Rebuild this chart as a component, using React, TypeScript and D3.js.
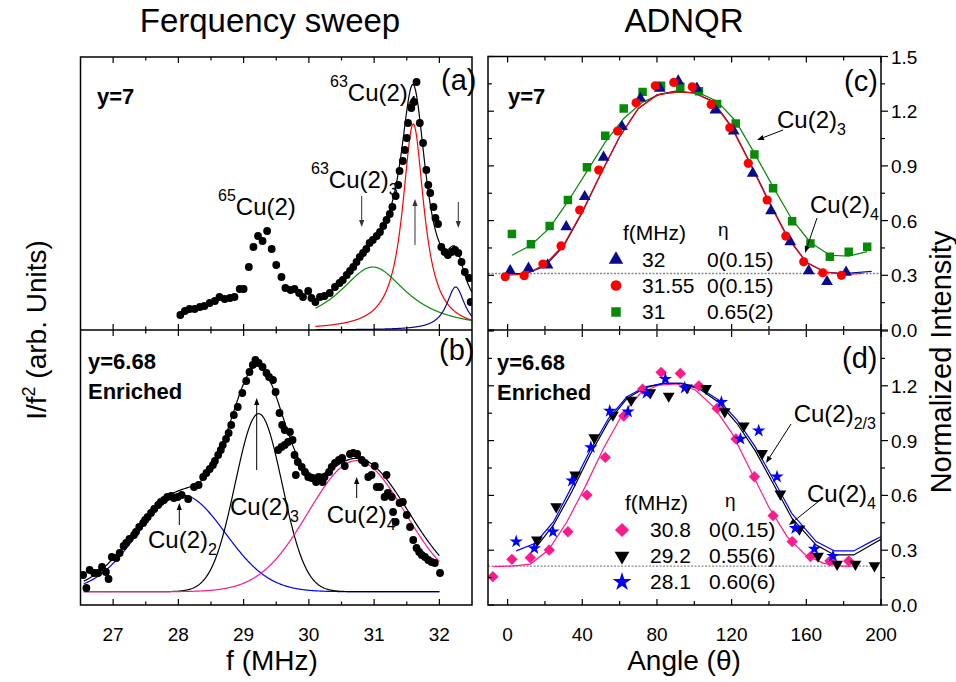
import React from "react";
import * as d3 from "d3";

// ---------- Panel (a): y=7 frequency sweep ----------
const aFreq = [28.03,28.10,28.17,28.25,28.33,28.40,28.48,28.56,28.63,28.71,28.79,28.86,28.94,29.00,29.08,29.15,29.22,29.29,29.36,29.43,29.50,29.58,29.64,29.72,29.78,29.85,29.91,29.99,30.04,30.10,30.17,30.24,30.32,30.40,30.47,30.52,30.58,30.63,30.68,30.73,30.78,30.83,30.88,30.93,30.98,31.04,31.09,31.14,31.19,31.24,31.28,31.33,31.37,31.39,31.44,31.47,31.50,31.52,31.57,31.61,31.65,31.70,31.75,31.80,31.83,31.86,31.91,31.94,31.98,32.03,32.08,32.13,32.19,32.24,32.29,32.34,32.39,32.46,32.48];
const aInt = [0.15,0.19,0.21,0.21,0.23,0.24,0.27,0.29,0.33,0.31,0.32,0.33,0.41,0.41,0.63,0.83,0.94,0.89,0.99,0.81,0.65,0.53,0.42,0.40,0.41,0.37,0.33,0.39,0.32,0.28,0.33,0.34,0.37,0.43,0.47,0.50,0.55,0.59,0.63,0.68,0.73,0.77,0.81,0.87,0.90,0.94,0.98,1.04,1.10,1.16,1.23,1.34,1.45,1.59,1.69,1.80,1.92,2.07,2.22,2.28,2.48,2.07,1.87,1.60,1.45,1.37,1.23,1.12,1.06,0.83,0.78,0.75,0.78,0.80,0.77,0.68,0.58,0.52,0.28];
// Lorentzian components: Cu(2)4 (red), Cu(2)3 (green), Cu(2)? (navy)
const aCompCenter = [31.60, 30.98, 32.25];
const aCompAmp = [2.06, 0.63, 0.43];
const aCompWidth = [0.20, 0.64, 0.17];
const aTotCenter = [31.60, 30.98, 32.25];
const aTotAmp = [2.10, 0.63, 0.45];
const aTotWidth = [0.24, 0.64, 0.17];
const aFitRange = [30.1, 32.5];

// ---------- Panel (b): y=6.68 enriched ----------
const bFreq = [26.54,26.59,26.64,26.71,26.77,26.83,26.89,26.93,26.98,27.05,27.10,27.16,27.20,27.25,27.32,27.35,27.40,27.46,27.49,27.53,27.58,27.63,27.69,27.73,27.78,27.83,27.89,27.93,27.99,28.05,28.15,28.24,28.31,28.38,28.43,28.48,28.53,28.56,28.61,28.65,28.68,28.73,28.77,28.81,28.85,28.91,28.98,29.04,29.09,29.14,29.18,29.23,29.29,29.35,29.39,29.45,29.49,29.55,29.59,29.63,29.71,29.75,29.53,29.58,29.63,29.68,29.78,29.80,29.83,29.89,29.94,29.99,30.04,30.11,30.15,30.21,30.24,30.31,30.35,30.40,30.46,30.51,30.55,30.63,30.68,30.74,30.81,30.86,30.91,30.96,31.01,31.04,31.09,31.19,31.16,31.21,31.27,31.29,31.33,31.39,31.44,31.50,31.55,31.60,31.65,31.69,31.73,31.78,31.83,31.88,31.93,32.01];
const bInt = [0.30,0.17,0.35,0.32,0.32,0.38,0.33,0.26,0.48,0.47,0.52,0.59,0.62,0.66,0.70,0.73,0.78,0.82,0.85,0.88,0.92,0.96,1.00,1.03,1.05,1.08,1.09,1.07,1.08,1.10,1.06,1.18,1.20,1.28,1.32,1.36,1.40,1.44,1.50,1.55,1.60,1.66,1.72,1.80,1.90,1.98,2.12,2.24,2.33,2.40,2.45,2.42,2.38,2.32,2.28,2.25,2.13,1.92,1.80,1.75,1.73,1.65,1.55,1.58,1.60,1.63,1.50,1.30,1.43,1.38,1.33,1.28,1.27,1.23,1.28,1.23,1.28,1.33,1.38,1.42,1.45,1.47,1.39,1.51,1.52,1.51,1.45,1.42,1.28,1.30,1.39,1.18,1.18,1.30,1.08,1.12,1.08,0.93,0.83,1.02,1.03,0.90,0.78,0.65,0.57,0.53,0.50,0.48,0.45,0.43,0.42,0.32];
const bBase = 0.133;
// Gaussian components: Cu(2)2 (blue), Cu(2)3 (black), Cu(2)4 (pink)
const bCompCenter = [28.05, 29.23, 30.73];
const bCompAmp = [0.967, 1.78, 1.31];
const bCompSigma = [0.67, 0.36, 0.74];
const bTotCenter = [28.03, 29.22, 30.74];
const bTotAmp = [0.98, 1.83, 1.33];
const bTotSigma = [0.70, 0.42, 0.78];
const bFitRange = [26.55, 32.0];

// ---------- Panel (c): ADNQR y=7 ----------
const cTriAngle = [1.4,11.2,21.4,31.4,41.3,51.4,61.3,71.1,81.5,91.4,101.4,111.3,121.1,131.3,141.1,151.4,161.3,171.1,181.3];
const cTriVal = [0.325,0.338,0.356,0.566,0.731,0.947,1.115,1.270,1.325,1.365,1.325,1.206,1.091,0.859,0.654,0.484,0.325,0.265,0.316];
const cCirAngle = [-1.3,8.9,18.9,28.6,38.6,48.8,58.9,68.8,79.1,89,98.9,109,119,128.9,139,149,158.6,168.8,178.8];
const cCirVal = [0.292,0.298,0.362,0.461,0.658,0.877,1.091,1.246,1.339,1.358,1.334,1.237,1.109,0.914,0.713,0.515,0.374,0.314,0.300];
const cSqAngle = [2.3,12.5,22.5,32.3,42.5,52.3,62.2,72.3,82.2,92.5,102.5,112.2,122.2,132.2,142.2,152.4,162.2,172.6,182.7,192.6];
const cSqVal = [0.526,0.470,0.570,0.713,0.892,1.065,1.215,1.306,1.339,1.334,1.310,1.239,1.133,0.963,0.777,0.596,0.475,0.402,0.429,0.457];
const cTriFitAngle = [0,10,20,30,40,50,60,70,80,90,100,110,120,130,140,150,160,170,180,195];
const cTriFitVal = [0.31,0.31,0.35,0.46,0.645,0.858,1.06,1.215,1.29,1.31,1.30,1.255,1.115,0.915,0.705,0.51,0.372,0.318,0.31,0.322];
const cCirFitAngle = [-1,10,20,30,40,50,60,70,80,90,100,110,120,130,140,150,160,170,180,190];
const cCirFitVal = [0.30,0.307,0.36,0.466,0.65,0.86,1.06,1.215,1.288,1.307,1.30,1.25,1.11,0.91,0.70,0.505,0.37,0.318,0.305,0.31];
const cSqFitAngle = [2.3,12.5,22.5,32.3,42.5,52.3,62.2,72.3,82.2,92.5,102.5,112.2,122.2,132.2,142.2,152.4,162.2,172.6,182.7,192.6];
const cSqFitVal = [0.41,0.465,0.56,0.705,0.87,1.03,1.16,1.25,1.295,1.305,1.30,1.255,1.145,0.97,0.785,0.605,0.48,0.41,0.405,0.43];
const cBaseline = 0.31;
const cLegendFreq = ["32", "31.55", "31"];
const cLegendEta = ["0(0.15)", "0(0.15)", "0.65(2)"];

// ---------- Panel (d): ADNQR y=6.68 ----------
const dDiaAngle = [-7.9,2.3,12.1,22.3,32.3,42.5,52.3,62.2,72.3,82.2,92.5,102.4,112.2,122.3,132.2,142.2,152.4,162.2,172.6,182.7];
const dDiaVal = [0.155,0.250,0.259,0.301,0.401,0.602,0.808,1.034,1.182,1.274,1.268,1.200,1.076,0.909,0.702,0.489,0.347,0.265,0.241,0.241];
const dTriAngle = [15.7,26,36.2,46.4,56.4,66.2,76.4,86.3,96.1,106.3,116.3,126.5,136.3,146.1,156.3,166.3,176.5,186.3,196.5];
const dTriVal = [0.356,0.538,0.712,0.916,1.040,1.122,1.162,1.144,1.189,1.186,1.058,0.981,0.830,0.608,0.416,0.268,0.223,0.223,0.215];
const dStarAngle = [4.6,14.3,24.3,34.5,44.6,54.7,64.5,74.4,84.5,94.9,114.5,124.7,134.5,144.3,154.1,164.3,174.3];
const dStarVal = [0.347,0.310,0.401,0.680,0.863,1.062,1.058,1.16,1.237,1.189,1.110,0.909,0.954,0.702,0.420,0.307,0.268];
const dDiaFitAngle = [-7.6,2.3,12.1,21.9,31.8,41.6,51.4,61.3,71.1,80.9,90.7,100.5,110.4,120.2,130,139.8,149.7,159.5,169.3,179.1,184.5];
const dDiaFitVal = [0.21,0.213,0.224,0.301,0.456,0.648,0.858,1.040,1.159,1.204,1.210,1.177,1.085,0.940,0.739,0.538,0.374,0.274,0.228,0.213,0.213];
const dTriFitAngle = [14.8,24.6,34.4,44.3,54.1,63.9,73.7,83.5,93.4,103.2,113,122.8,132.6,142.5,152.3,165.3,175.1,185.4,194.7,200];
const dTriFitVal = [0.31,0.438,0.62,0.825,1.005,1.13,1.19,1.213,1.213,1.18,1.11,0.995,0.845,0.66,0.475,0.328,0.274,0.274,0.328,0.36];
const dStarFitAngle = [4.6,14.8,24.6,34.4,44.3,54.1,63.9,73.7,83.5,93.4,103.2,113,122.8,132.6,142.5,152.3,165.3,175.1,185.4,194.7,200];
const dStarFitVal = [0.296,0.338,0.456,0.648,0.848,1.022,1.14,1.195,1.213,1.213,1.186,1.122,1.013,0.867,0.684,0.50,0.347,0.296,0.296,0.347,0.374];
const dBaseline = 0.213;
const dLegendFreq = ["30.8", "29.2", "28.1"];
const dLegendEta = ["0(0.15)", "0.55(6)", "0.60(6)"];

// ---------- ticks ----------
const leftMajor = [27, 28, 29, 30, 31, 32];
const leftMinor = [27.5, 28.5, 29.5, 30.5, 31.5];
const rightXMajor = [0, 40, 80, 120, 160, 200];
const rightXMinor = [20, 60, 100, 140, 180];
const rightYMajor = [0, 0.3, 0.6, 0.9, 1.2, 1.5];
const rightYMinor = [0.15, 0.45, 0.75, 1.05, 1.35];

// ---------- layout / style ----------
const FONT = "'Liberation Sans', Arial, Helvetica, sans-serif";
const xL = d3.scaleLinear().domain([26.5, 32.5]).range([80.5, 472]);
const yA = d3.scaleLinear().domain([0, 2.73]).range([330, 57]);
const yB = d3.scaleLinear().domain([0, 2.75]).range([605, 330]);
const xR = d3.scaleLinear().domain([-10.5, 200]).range([488, 881]);
const yC = d3.scaleLinear().domain([0, 1.5]).range([330, 56.5]);
const yD = d3.scaleLinear().domain([0, 1.5]).range([605, 331]);

const NAVY = "#0a0a8c";
const RED = "#ff0000";
const GREEN = "#078a07";
const PINK = "#ff1a8c";
const BLUE = "#0000ff";

const lorentz = (x: number, c: number[], a: number[], w: number[], i: number) =>
  a[i] / (1 + ((x - c[i]) / w[i]) ** 2);
const gauss = (x: number, c: number[], a: number[], s: number[], i: number) =>
  a[i] * Math.exp(-((x - c[i]) ** 2) / (2 * s[i] * s[i]));

function symPath(kind: string, size: number): string {
  switch (kind) {
    case "tri": return d3.symbol(d3.symbolTriangle, size)() as string;
    case "tridown": return d3.symbol(d3.symbolTriangle, size)() as string;
    case "circ": return d3.symbol(d3.symbolCircle, size)() as string;
    case "sq": return d3.symbol(d3.symbolSquare, size)() as string;
    case "dia": return d3.symbol(d3.symbolSquare, size)() as string;
    case "star": return d3.symbol(d3.symbolStar, size)() as string;
  }
  return "";
}
const symRot = (kind: string) => (kind === "tridown" ? 180 : kind === "dia" ? 45 : 0);

function Marker({ x, y, kind, size, color }: any) {
  return (
    <path d={symPath(kind, size)} fill={color}
      transform={`translate(${x},${y}) rotate(${symRot(kind)})`} />
  );
}

function Arrow({ x1, y1, x2, y2, color = "#000", w = 1 }: any) {
  const ang = Math.atan2(y2 - y1, x2 - x1);
  const L = 7, H = 2.6;
  const bx = x2 - L * Math.cos(ang), by = y2 - L * Math.sin(ang);
  const px = -Math.sin(ang) * H, py = Math.cos(ang) * H;
  return (
    <g>
      <line x1={x1} y1={y1} x2={bx} y2={by} stroke={color} strokeWidth={w} />
      <path d={`M${x2},${y2}L${bx + px},${by + py}L${bx - px},${by - py}Z`} fill={color} />
    </g>
  );
}

function Lbl({ x, y, main, sup, sub, size = 24, small = 16 }: any) {
  return (
    <text x={x} y={y} fontSize={size} fontFamily={FONT} fill="#000">
      {sup ? <tspan fontSize={small} dy={-14}>{sup}</tspan> : null}
      <tspan dy={sup ? 14 : 0}>{main}</tspan>
      {sub ? <tspan fontSize={small} dy={7}>{sub}</tspan> : null}
    </text>
  );
}

export default function App() {
  const lineA = (xs: number[], f: (x: number) => number) =>
    d3.line<number>().x((x) => xL(x)).y((x) => yA(f(x)))(xs) as string;
  const lineB = (xs: number[], f: (x: number) => number) =>
    d3.line<number>().x((x) => xL(x)).y((x) => yB(f(x)))(xs) as string;
  const aXs = d3.range(aFitRange[0], aFitRange[1] + 0.001, 0.005);
  const bXs = d3.range(bFitRange[0], bFitRange[1] + 0.001, 0.01);

  const aTot = (x: number) => [0, 1, 2].reduce((s, i) => s + lorentz(x, aTotCenter, aTotAmp, aTotWidth, i), 0);
  const bTot = (x: number) => bBase + [0, 1, 2].reduce((s, i) => s + gauss(x, bTotCenter, bTotAmp, bTotSigma, i), 0);
  const aColors = [RED, GREEN, NAVY];
  const bColors = [BLUE, "#000", PINK];

  const polyC = (ang: number[], val: number[]) =>
    d3.line<number>().x((_, i) => xR(ang[i])).y((v) => yC(v))(val) as string;
  const polyD = (ang: number[], val: number[]) =>
    d3.line<number>().x((_, i) => xR(ang[i])).y((v) => yD(v))(val) as string;

  const tick = (x1: number, y1: number, x2: number, y2: number, k: string) => (
    <line key={k} x1={x1} y1={y1} x2={x2} y2={y2} stroke="#000" strokeWidth={1.2} />
  );

  const leftTicks: any[] = [];
  [[57, 330], [330, 605]].forEach(([t, b], p) => {
    leftMajor.forEach((v) => {
      leftTicks.push(tick(xL(v), t, xL(v), t + 6, `lt${p}M${v}`));
      leftTicks.push(tick(xL(v), b, xL(v), b - 6, `lb${p}M${v}`));
    });
    leftMinor.forEach((v) => {
      leftTicks.push(tick(xL(v), t, xL(v), t + 3.5, `lt${p}m${v}`));
      leftTicks.push(tick(xL(v), b, xL(v), b - 3.5, `lb${p}m${v}`));
    });
  });
  const rightTicks: any[] = [];
  [[56.5, 330, yC], [331, 605, yD]].forEach(([t, b, ys]: any, p) => {
    rightXMajor.forEach((v) => {
      rightTicks.push(tick(xR(v), t, xR(v), t + 6, `rt${p}M${v}`));
      rightTicks.push(tick(xR(v), b, xR(v), b - 6, `rb${p}M${v}`));
    });
    rightXMinor.forEach((v) => {
      rightTicks.push(tick(xR(v), t, xR(v), t + 4, `rt${p}m${v}`));
      rightTicks.push(tick(xR(v), b, xR(v), b - 4, `rb${p}m${v}`));
    });
    rightYMajor.forEach((v) => {
      rightTicks.push(tick(488, ys(v), 494, ys(v), `ry${p}M${v}`));
      rightTicks.push(tick(881, ys(v), 888, ys(v), `rr${p}M${v}`));
    });
    rightYMinor.forEach((v) => {
      rightTicks.push(tick(488, ys(v), 492, ys(v), `ry${p}m${v}`));
      rightTicks.push(tick(881, ys(v), 885, ys(v), `rr${p}m${v}`));
    });
  });

  const tickFont = 19;
  const legendRows = (freqs: string[], etas: string[], kinds: string[], colors: string[], sizes: number[], rowY: number[], symX: number, fX: number, eX: number) =>
    freqs.map((f, i) => (
      <g key={`lg${f}${i}`}>
        <Marker x={symX} y={rowY[i] - 7} kind={kinds[i]} size={sizes[i]} color={colors[i]} />
        <text x={fX} y={rowY[i]} fontSize={21} fontFamily={FONT}>{f}</text>
        <text x={eX} y={rowY[i]} fontSize={21} fontFamily={FONT}>{etas[i]}</text>
      </g>
    ));

  return (
    <svg width={956} height={682} style={{ position: "absolute", left: 0, top: 0, background: "#fff" }}
      fontFamily={FONT}>
      <defs>
        <clipPath id="clipA"><rect x={80.5} y={57} width={391.5} height={273} /></clipPath>
        <clipPath id="clipB"><rect x={80.5} y={330} width={391.5} height={275} /></clipPath>
        <clipPath id="clipC"><rect x={488} y={56.5} width={393} height={273.5} /></clipPath>
        <clipPath id="clipD"><rect x={488} y={330} width={393} height={275} /></clipPath>
      </defs>
      <rect x={0} y={0} width={956} height={682} fill="#fff" />

      {/* titles */}
      <text x={270} y={32} fontSize={33} textAnchor="middle">Ferquency sweep</text>
      <text x={684} y={32} fontSize={33} textAnchor="middle">ADNQR</text>
      <text x={272} y={670} fontSize={28} textAnchor="middle">f (MHz)</text>
      <text x={684} y={670} fontSize={28} textAnchor="middle">Angle (θ)</text>
      <text transform="translate(46,330) rotate(-90)" fontSize={28} textAnchor="middle">
        I/f<tspan fontSize={18} dy={-11}>2</tspan><tspan dy={11}>  (arb. Units)</tspan>
      </text>
      <text transform="translate(951,362) rotate(-90)" fontSize={29} textAnchor="middle">Normalized Intensity</text>

      {/* ---------- panel (a) ---------- */}
      <g clipPath="url(#clipA)">
        {[0, 1, 2].map((i) => (
          <path key={`ac${i}`} d={lineA(aXs, (x) => lorentz(x, aCompCenter, aCompAmp, aCompWidth, i))}
            fill="none" stroke={aColors[i]} strokeWidth={1.2} />
        ))}
        <path d={lineA(aXs, aTot)} fill="none" stroke="#000" strokeWidth={1.2} />
        {aFreq.map((f, i) => <circle key={`ad${i}`} cx={xL(f)} cy={yA(aInt[i])} r={3.9} fill="#000" />)}
      </g>
      <text x={97} y={104} fontSize={22} fontWeight="bold">y=7</text>
      <text x={441} y={90} fontSize={29}>(a)</text>
      <Lbl x={218} y={215} sup="65" main="Cu(2)" />
      <Lbl x={311} y={188} sup="63" main="Cu(2)" sub="3" />
      <Lbl x={330} y={101} sup="63" main="Cu(2)" sub="4" />
      <Arrow x1={361.7} y1={196} x2={361.7} y2={227} color="#333" />
      <Arrow x1={415} y1={245} x2={415} y2={199} color="#333" />
      <Arrow x1={458.3} y1={202} x2={458.3} y2={228} color="#333" />

      {/* ---------- panel (b) ---------- */}
      <g clipPath="url(#clipB)">
        {[0, 1, 2].map((i) => (
          <path key={`bc${i}`} d={lineB(bXs, (x) => bBase + gauss(x, bCompCenter, bCompAmp, bCompSigma, i))}
            fill="none" stroke={bColors[i]} strokeWidth={1.2} />
        ))}
        <path d={lineB(bXs, bTot)} fill="none" stroke="#000" strokeWidth={1.2} />
        {bFreq.map((f, i) => <circle key={`bd${i}`} cx={xL(f)} cy={yB(bInt[i])} r={3.9} fill="#000" />)}
      </g>
      <text x={88} y={369} fontSize={22} fontWeight="bold">y=6.68</text>
      <text x={88} y={399} fontSize={22} fontWeight="bold">Enriched</text>
      <text x={439} y={360} fontSize={29}>(b)</text>
      <Lbl x={148} y={548} main="Cu(2)" sub="2" />
      <Lbl x={230} y={515} main="Cu(2)" sub="3" />
      <Lbl x={326.7} y={523} main="Cu(2)" sub="4" />
      <Arrow x1={179.3} y1={525} x2={179.3} y2={503} />
      <Arrow x1={256.7} y1={470} x2={256.7} y2={398} />
      <Arrow x1={356.7} y1={498} x2={356.7} y2={477} />

      {/* frames left */}
      <rect x={80.5} y={57} width={391.5} height={548} fill="none" stroke="#000" strokeWidth={1.5} />
      <line x1={80.5} y1={330} x2={472} y2={330} stroke="#000" strokeWidth={1.5} />
      {leftTicks}
      {leftMajor.map((v) => (
        <text key={`ltl${v}`} x={xL(v)} y={641} fontSize={tickFont} textAnchor="middle">{v}</text>
      ))}

      {/* ---------- panel (c) ---------- */}
      <line x1={488} x2={881} y1={yC(cBaseline)} y2={yC(cBaseline)} stroke="#888" strokeWidth={1.3} strokeDasharray="2,1.5" />
      <g clipPath="url(#clipC)">
        <path d={polyC(cSqFitAngle, cSqFitVal)} fill="none" stroke={GREEN} strokeWidth={1.2} />
        <path d={polyC(cTriFitAngle, cTriFitVal)} fill="none" stroke={NAVY} strokeWidth={1.2} />
        <path d={polyC(cCirFitAngle, cCirFitVal)} fill="none" stroke={RED} strokeWidth={1.2} />
        {cSqAngle.map((a, i) => <Marker key={`cs${i}`} x={xR(a)} y={yC(cSqVal[i])} kind="sq" size={72} color={GREEN} />)}
        {cTriAngle.map((a, i) => <Marker key={`ct${i}`} x={xR(a)} y={yC(cTriVal[i])} kind="tri" size={60} color={NAVY} />)}
        {cCirAngle.map((a, i) => <Marker key={`cc${i}`} x={xR(a)} y={yC(cCirVal[i])} kind="circ" size={66} color={RED} />)}
      </g>
      <text x={508} y={104} fontSize={22} fontWeight="bold">y=7</text>
      <text x={844} y={91} fontSize={29}>(c)</text>
      <Lbl x={777} y={128} main="Cu(2)" sub="3" />
      <Arrow x1={783} y1={130} x2={757} y2={140} />
      <Lbl x={810} y={213} main="Cu(2)" sub="4" />
      <Arrow x1={817} y1={218} x2={805} y2={253} />
      <text x={623} y={240} fontSize={21}>f(MHz)</text>
      <text x={718} y={236} fontSize={19}>η</text>
      {legendRows(cLegendFreq, cLegendEta, ["tri", "circ", "sq"], [NAVY, RED, GREEN], [90, 90, 90], [266.5, 292.5, 319], 616, 642, 707)}

      {/* ---------- panel (d) ---------- */}
      <line x1={488} x2={881} y1={yD(dBaseline)} y2={yD(dBaseline)} stroke="#888" strokeWidth={1.3} strokeDasharray="2,1.5" />
      <g clipPath="url(#clipD)">
        <path d={polyD(dDiaFitAngle, dDiaFitVal)} fill="none" stroke={PINK} strokeWidth={1.2} />
        <path d={polyD(dTriFitAngle, dTriFitVal)} fill="none" stroke="#000" strokeWidth={1.2} />
        <path d={polyD(dStarFitAngle, dStarFitVal)} fill="none" stroke={BLUE} strokeWidth={1.2} />
        {dDiaAngle.map((a, i) => <Marker key={`dd${i}`} x={xR(a)} y={yD(dDiaVal[i])} kind="dia" size={64} color={PINK} />)}
        {dTriAngle.map((a, i) => <Marker key={`dt${i}`} x={xR(a)} y={yD(dTriVal[i])} kind="tridown" size={60} color="#000" />)}
        {dStarAngle.map((a, i) => <Marker key={`ds${i}`} x={xR(a)} y={yD(dStarVal[i])} kind="star" size={55} color={BLUE} />)}
      </g>
      <text x={497} y={370} fontSize={22} fontWeight="bold">y=6.68</text>
      <text x={497} y={400} fontSize={22} fontWeight="bold">Enriched</text>
      <text x={842} y={368} fontSize={29}>(d)</text>
      <Lbl x={793.7} y={421.5} main="Cu(2)" sub="2/3" />
      <Arrow x1={791} y1={424} x2={766} y2={463} />
      <Lbl x={807} y={501.5} main="Cu(2)" sub="4" />
      <Arrow x1={819} y1={501} x2={789} y2={525} />
      <text x={625} y={510} fontSize={21}>f(MHz)</text>
      <text x={725} y={507} fontSize={19}>η</text>
      {legendRows(dLegendFreq, dLegendEta, ["dia", "tridown", "star"], [PINK, "#000", BLUE], [100, 95, 110], [537, 563, 589], 622, 650, 709)}

      {/* frames right */}
      <rect x={488} y={56.5} width={393} height={548.5} fill="none" stroke="#000" strokeWidth={1.5} />
      <line x1={488} y1={330} x2={881} y2={330} stroke="#000" strokeWidth={1.5} />
      {rightTicks}
      {rightXMajor.map((v) => (
        <text key={`rtl${v}`} x={xR(v)} y={641} fontSize={tickFont} textAnchor="middle">{v}</text>
      ))}
      {rightYMajor.map((v) => (
        <text key={`rcl${v}`} x={891} y={yC(v) + 7} fontSize={tickFont}>{v.toFixed(1)}</text>
      ))}
      {rightYMajor.filter((v) => v < 1.4).map((v) => (
        <text key={`rdl${v}`} x={891} y={yD(v) + 7} fontSize={tickFont}>{v.toFixed(1)}</text>
      ))}
    </svg>
  );
}
